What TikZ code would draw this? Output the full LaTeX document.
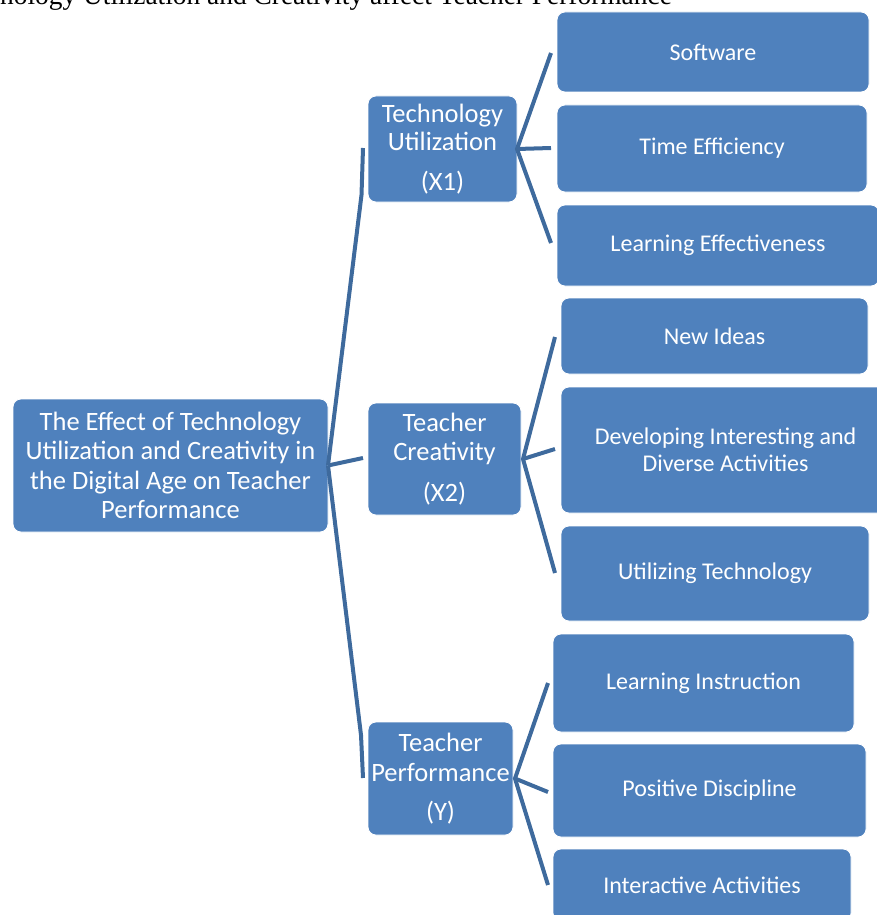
\documentclass[tikz,border=0pt]{standalone}
\usepackage{fontspec}
\setmainfont{Carlito}
\newfontfamily\titlefont{Liberation Serif}
\definecolor{boxblue}{HTML}{4F81BD}
\definecolor{lineblue}{HTML}{3E6A9D}
\begin{document}
\begin{tikzpicture}[x=1pt,y=-1pt,
  card/.style={rectangle, rounded corners=8pt, fill=boxblue, draw=white, line width=0.8pt,
    text=white, align=center, inner sep=0pt, outer sep=0pt},
  topic/.style={card, font=\fontsize{26.5}{29.5}\selectfont},
  leaf/.style={card, font=\fontsize{24}{27}\selectfont},
  link/.style={draw=lineblue, line width=4pt}]
\useasboundingbox (0,0) rectangle (877,915);
\clip (0,0) rectangle (877,915);

% caption line running across the top
\node[anchor=base east, inner sep=0pt, font=\titlefont\fontsize{27.4}{30}\selectfont]
  (caption) at (672,4.5) {Technology Utilization and Creativity affect Teacher Performance};

% root topic
\node[topic, minimum width=315, minimum height=133] (root) at (170.5,465.5)
  {The Effect of Technology\\Utilization and Creativity in\\the Digital Age on Teacher\\Performance};

% variables
\node[topic, minimum width=149, minimum height=106] (x1) at (442.5,149)
  {Technology\\[-1.5pt]Utilization\\[11pt](X1)};
\node[topic, minimum width=153, minimum height=112] (x2) at (444.5,459)
  {Teacher\\[-0.5pt]Creativity\\[11pt](X2)};
\node[topic, minimum width=145, minimum height=113] (yv) at (440.5,778.5)
  {Teacher\\[0.5pt]Performance\\[10pt](Y)};

% indicators of X1
\node[leaf, minimum width=312, minimum height=80] (soft) at (713,52) {Software};
\node[leaf, minimum width=310, minimum height=87] (time) at (712,148.5) {Time Efficiency};
\node[leaf, minimum width=322, minimum height=81] (leff) at (718,245.5) {Learning Effectiveness};

% indicators of X2
\node[leaf, minimum width=307, minimum height=76] (idea) at (714.5,336) {New Ideas};
\node[leaf, minimum width=329, minimum height=126] (dev) at (725.5,450)
  {Developing Interesting and\\Diverse Activities};
\node[leaf, minimum width=308, minimum height=95] (utech) at (715,573.5) {Utilizing Technology};

% indicators of Y
\node[leaf, minimum width=301, minimum height=98] (linst) at (703.5,683) {Learning Instruction};
\node[leaf, minimum width=313, minimum height=93] (pdis) at (709.5,790.5) {Positive Discipline};
\node[leaf, minimum width=298, minimum height=72] (iact) at (702,885) {Interactive Activities};

% connector end points
\coordinate (r1) at (363,148);
\coordinate (r1k) at (361.5,195);
\coordinate (r2) at (363,458);
\coordinate (r3) at (363,778);
\coordinate (r3k) at (361,735);

\coordinate (a1) at (551,53);
\coordinate (a2) at (551,148);
\coordinate (a3) at (551,243);
\coordinate (b1) at (555,337);
\coordinate (b2) at (555,449);
\coordinate (b3) at (555,573);
\coordinate (c1) at (548,683);
\coordinate (c2) at (548,792);
\coordinate (c3) at (548,885);

% root to variables
\draw[link] (root.east) -- (r1k) -- (r1);
\draw[link] (root.east) -- (r2);
\draw[link] (root.east) -- (r3k) -- (r3);

% variables to indicators
\draw[link] (a1) -- (x1.east) -- (a3);
\draw[link] (x1.east) -- (a2);
\draw[link] (b1) -- ([xshift=2pt]x2.east) -- (b3);
\draw[link] ([xshift=2pt]x2.east) -- (b2);
\draw[link] (c1) -- ([xshift=2pt]yv.east) -- (c3);
\draw[link] ([xshift=2pt]yv.east) -- (c2);
\end{tikzpicture}
\end{document}
